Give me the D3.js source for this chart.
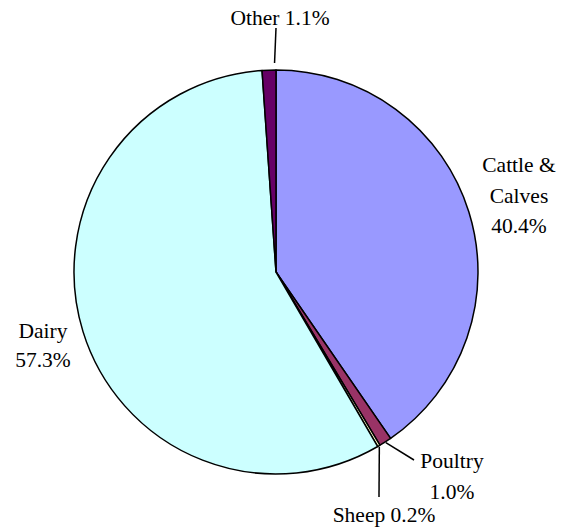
<!DOCTYPE html>
<html><head><meta charset="utf-8">
<script src="https://cdn.jsdelivr.net/npm/d3@7"></script>
<style>body{margin:0;background:#fff}svg{display:block}</style>
</head><body>
<svg id="c" width="578" height="527"></svg>
<script>
const categories = ["Cattle & Calves", "Poultry", "Sheep", "Dairy", "Other"];
const values = [40.4, 1.0, 0.2, 57.3, 1.1];
const colors = ["#9999FF", "#993366", "#FFFFCC", "#CCFFFF", "#660066"];
const labelLines = [["Cattle &", "Calves", "40.4%"], ["Poultry", "1.0%"], ["Sheep 0.2%"], ["Dairy", "57.3%"], ["Other 1.1%"]];

const cx = 276, cy = 272, r = 202;
const svg = d3.select("#c");
const g = svg.append("g").attr("transform", `translate(${cx},${cy})`);
const pie = d3.pie().sort(null).value(d => d.v);
const data = pie(categories.map((c, i) => ({c, v: values[i], col: colors[i], lines: labelLines[i]})));
const arc = d3.arc().innerRadius(0).outerRadius(r);
g.selectAll("path").data(data).join("path")
  .attr("d", arc).attr("fill", d => d.data.col)
  .attr("stroke", "#000").attr("stroke-width", 1.5).attr("stroke-linejoin", "round");

const layout = [
  {x: 243, y: -100, lh: 30.5},
  {x: 176, y: 196, lh: 31, leader: [138, 188], frac: 0.5, dr: 1},
  {x: 108, y: 250, lh: 0, leader: [103, 225], frac: 0.5, dr: 1},
  {x: -233, y: 66, lh: 29},
  {x: 4, y: -247, lh: 0, leader: [0, -244], frac: 0.9, dr: 7}
];
const pt = (a, rr) => [Math.sin(a) * rr, -Math.cos(a) * rr];
data.forEach((d, i) => {
  const L = layout[i];
  if (L.leader) {
    const a = d.startAngle + (d.endAngle - d.startAngle) * L.frac;
    const p0 = pt(a, r + L.dr);
    g.append("line").attr("x1", p0[0]).attr("y1", p0[1]).attr("x2", L.leader[0]).attr("y2", L.leader[1])
      .attr("stroke", "#000").attr("stroke-width", 1.5);
  }
  const t = g.append("text").attr("text-anchor", "middle")
    .attr("font-family", "'Liberation Serif', 'DejaVu Serif', serif")
    .attr("font-size", "21.5px").attr("fill", "#000");
  d.data.lines.forEach((s, j) => {
    t.append("tspan").attr("x", L.x).attr("y", L.y + j * L.lh).text(s);
  });
});
</script>
</body></html>
